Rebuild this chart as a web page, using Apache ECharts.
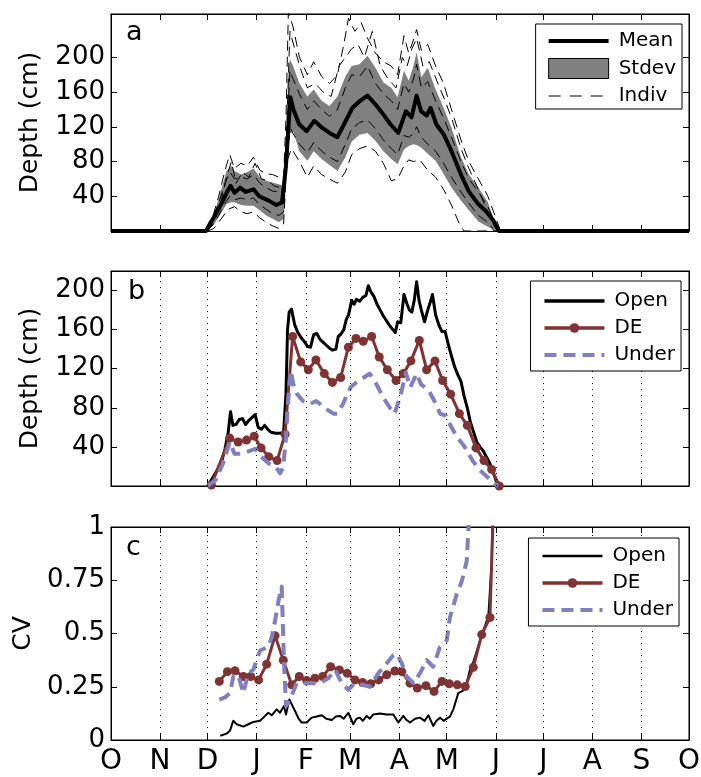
<!DOCTYPE html>
<html><head><meta charset="utf-8">
<script src="https://cdn.jsdelivr.net/npm/echarts@6/dist/echarts.min.js"></script>
<style>html,body{margin:0;padding:0;background:#fff}#c{width:701px;height:777px}</style>
</head><body><div id="c"></div>
<script>
// ---- axis definitions ----
const monthDays = [0,31,61,92,123,151,182,212,243,273,304,335,365];
const monthLabels = ['O','N','D','J','F','M','A','M','J','J','A','S','O'];
const depthTicks = [40,80,120,160,200];
const cvTicks = [0,0.25,0.5,0.75,1];
const cvTickLabels = ['0','0.25','0.5','0.75','1'];

// ---- panel a: mean, stdev band, individual sites (day since Oct 1, depth cm) ----
const meanA = [[0,0],[60,0],[63,10],[66,19],[70.7,35],[73,44],[75.5,52],[78,44],[81.5,50],[85,45],[90,48],[93.6,40],[99.6,35],[104.4,30],[108,33],[110.4,73],[113.3,154],[115.2,140],[118.8,123],[123.6,115],[128.4,127],[133.3,119],[138,113],[142.9,108],[147.7,125],[152.5,142],[157.3,150],[162,156],[166.9,146],[171.7,135],[176.5,123],[181.4,113],[186.2,138],[189.8,131],[193,156],[195.8,138],[199.4,133],[201.8,142],[205.4,123],[210.2,111],[215,92],[221,65],[225.9,46],[231.9,31],[236.7,23],[241.5,12],[245,0],[365,0]];
const bandDays = [0,60,63,66,70,73,76,78,82,86,90,94,98,102,106,109,110.5,112,113,115,119,124,128,133,138,143,148,152,157,162,167,172,177,181,185,188,191,193,196,200,205,210,215,221,226,232,238,244,365];
const bandLow  = [0,0,4,10,22,31,33,33,30,29,29,24,18,14,10,14,60,105,112,115,92,81,92,83,76,69,85,103,111,113,104,92,83,77,94,98,100,99,96,89,81,66,50,35,24,11,5,0,0];
const bandHigh = [0,0,12,25,50,69,75,69,65,68,72,62,58,56,54,52,95,180,198,190,170,155,163,150,144,155,178,190,192,202,188,171,165,154,185,173,190,206,177,188,163,142,119,85,65,50,33,0,0];
const indiv1 = [[0,0],[60,0],[64,15],[68,40],[72,70],[75,88],[78,72],[82,78],[86,75],[90,85],[94,70],[98,66],[102,65],[106,62],[109,60],[110.5,130],[112,252],[115,235],[119,200],[124,180],[128,195],[133,178],[138,170],[143,180],[147,215],[150,245],[154,230],[158,240],[162,222],[167,205],[172,195],[177,190],[181,180],[185,225],[188,205],[191,220],[193,232],[196,208],[200,215],[205,190],[210,170],[215,140],[221,105],[226,80],[232,60],[238,40],[243,15],[246,0],[365,0]];
const indiv2 = [[0,0],[61,0],[65,3],[70,15],[74,25],[78,28],[82,22],[86,20],[90,22],[94,15],[98,10],[102,6],[106,3],[109,8],[111,80],[114,95],[119,80],[124,62],[128,75],[133,65],[138,60],[143,55],[148,68],[152,88],[157,95],[162,98],[167,92],[172,78],[177,58],[181,60],[185,75],[188,82],[191,80],[195,82],[200,70],[205,62],[210,48],[215,30],[220,8],[223,0],[365,0]];
const indiv3 = [[0,0],[60,0],[64,14],[68,32],[72,55],[75,68],[78,60],[82,62],[86,60],[90,65],[94,55],[98,50],[102,46],[106,45],[109,44],[111,110],[113,185],[115,175],[119,158],[124,140],[128,150],[133,140],[138,132],[143,140],[148,165],[152,180],[157,178],[162,190],[167,170],[172,158],[177,150],[181,140],[185,170],[188,160],[191,175],[193,192],[196,165],[200,172],[205,150],[210,130],[215,108],[221,80],[226,60],[232,45],[238,28],[243,8],[245,0],[365,0]];
const indiv4 = [[0,0],[60,0],[64,6],[68,18],[72,32],[75,40],[78,36],[82,38],[86,36],[90,38],[94,30],[98,25],[102,20],[106,18],[109,22],[111,75],[113,120],[115,112],[119,100],[124,90],[128,102],[133,92],[138,85],[143,80],[148,100],[152,118],[157,125],[162,128],[167,118],[172,105],[177,95],[181,88],[185,110],[188,108],[191,112],[193,120],[196,108],[200,100],[205,92],[210,78],[215,62],[221,45],[226,32],[232,18],[238,10],[242,0],[365,0]];
const indiv5 = [[0,0],[61,0],[65,10],[69,30],[73,62],[76,80],[79,55],[83,68],[87,62],[91,78],[95,60],[99,58],[103,52],[107,50],[110,58],[111.5,150],[113,230],[116,210],[120,185],[124,165],[129,170],[134,160],[139,155],[144,190],[148,200],[152,210],[156,215],[160,200],[165,230],[170,190],[175,175],[180,165],[184,200],[187,190],[190,210],[193,222],[197,190],[201,195],[206,172],[211,150],[216,125],[221,95],[226,72],[231,52],[236,30],[240,12],[244,0],[365,0]];

// ---- panel b: depth at Open, DE, Under ----
const openB = [[61,0],[64,8],[67,16],[70,26],[72,38],[74,55],[75.5,76],[77,62],[79,63],[81,68],[83,69],[85,63],[87,67],[89,70],[91,73],[93,60],[95,58],[97,62],[99,58],[101,55],[104,54],[107,54],[109,55],[110.5,95],[111.5,160],[112.5,178],[114,181],[116,165],[118,157],[120,152],[122,148],[124,143],[126,142],[128,155],[130,156],[132,150],[134,147],[136,144],[138,141],[140,139],[142,140],[143.5,153],[145,155],[147,160],[148.5,170],[150,175],[152,190],[153.5,186],[155,191],[157,189],[159,193],[161,195],[162.5,205],[164,199],[166,194],[168,186],[170,180],[172,174],[174,169],[176,164],[178,160],[179.5,157],[181,168],[183,167],[185,196],[187,186],[188.5,180],[190,178],[191.5,190],[193,209],[194.5,190],[196,180],[198,168],[200,180],[202,190],[203,196],[205,175],[207,165],[209,158],[211,158],[213,145],[215,133],[217,122],[219,114],[221,107],[223,92],[225,80],[227,65],[229,55],[231,45],[233,40],[235,36],[237,30],[239,24],[241,16],[243,6],[244,0]];
const deB = [[63.4,1],[75,49],[80.3,45],[85.6,47],[90.4,51],[94.8,39],[99.6,30],[104.9,26],[109.9,53],[114.7,153],[119.8,127],[124.6,119],[129.4,129],[134.7,115],[139.8,106],[145,111],[149.9,142],[154.7,151],[159.3,148],[164.6,153],[169.4,132],[174.5,119],[180,108],[184.6,115],[189.4,128],[194.7,149],[199.3,119],[204.6,128],[209.4,108],[214.5,94],[220,74],[225,62],[230.5,39],[235.5,26],[240.4,17],[245.2,0]];
const underB = [[61,0],[66,6],[70.7,23],[75,45],[78,33],[82.7,33],[87.5,36],[91.2,38],[94.8,30],[99.6,23],[104.4,19],[106.8,13],[108.7,19],[110.4,47],[111.6,81],[113.5,118],[115.2,104],[117.6,94],[121.2,87],[125.6,84],[129.6,87],[135.7,79],[140.5,74],[142.9,74],[146.5,84],[151.3,101],[154.9,106],[159.7,111],[163.3,115],[167,106],[171.8,91],[176.5,79],[179,74],[182.6,91],[186.2,116],[189,101],[193,115],[195.8,104],[200.6,98],[204.2,87],[207.8,74],[211.4,72],[215,60],[218.6,50],[223.4,40],[228.3,26],[233,16],[237.8,9],[242.6,2],[244.4,0]];

// ---- panel c: coefficient of variation ----
const openC = [[69,0.02],[73,0.03],[75.1,0.043],[77.2,0.09],[79.4,0.074],[83.6,0.063],[86.7,0.074],[89.9,0.085],[94.1,0.09],[96.2,0.105],[99.3,0.128],[101.5,0.116],[104.6,0.144],[106.7,0.128],[109.2,0.159],[110.5,0.12],[112.6,0.19],[116.2,0.136],[118.5,0.1],[120.4,0.082],[123.6,0.082],[126.7,0.105],[130,0.11],[133,0.116],[136,0.1],[139.4,0.094],[142,0.11],[144.6,0.113],[147,0.1],[149.9,0.128],[153,0.074],[155,0.1],[157.2,0.105],[159,0.09],[161.5,0.113],[163.5,0.1],[165.6,0.12],[169.9,0.124],[174,0.12],[178.3,0.12],[181.4,0.082],[184.6,0.113],[186.5,0.095],[188.8,0.082],[192,0.1],[195.1,0.105],[198,0.09],[200.4,0.116],[203.5,0.066],[205.5,0.09],[207.8,0.105],[210,0.09],[212,0.1],[214,0.11],[216.2,0.144],[219.3,0.22],[223.5,0.236],[226.7,0.33],[228.8,0.367],[234.1,0.49],[238.3,0.583],[240.4,0.84],[242,1.5]];
const deC = [[68.4,0.275],[73.5,0.321],[78.3,0.325],[83.6,0.298],[88.2,0.298],[93.2,0.282],[98.3,0.356],[103.6,0.49],[108.8,0.375],[114.1,0.259],[118.9,0.298],[123.6,0.279],[128.8,0.29],[133.7,0.298],[138.7,0.344],[144.2,0.329],[149.2,0.313],[154.1,0.282],[158.9,0.27],[164,0.264],[169,0.282],[174.1,0.306],[179.3,0.324],[183.6,0.321],[188.8,0.267],[193.4,0.244],[198.9,0.255],[204,0.228],[209,0.275],[213.6,0.264],[218.7,0.259],[223.7,0.251],[228.8,0.341],[234.1,0.495],[239.3,0.575],[244,1.7]];
const underC = [[68.4,0.19],[72,0.2],[75.1,0.22],[77.3,0.3],[80.4,0.305],[83.5,0.22],[86.7,0.313],[89.9,0.33],[94.1,0.42],[99.3,0.437],[101.5,0.483],[103.6,0.56],[105.7,0.65],[107.8,0.72],[108.4,0.575],[109.2,0.375],[110.5,0.16],[113,0.19],[117.3,0.267],[121.4,0.267],[127.7,0.267],[132,0.267],[137.2,0.29],[141.5,0.33],[145.7,0.267],[149.8,0.236],[154,0.267],[158.3,0.26],[163.5,0.25],[168.8,0.313],[173,0.35],[178.3,0.398],[180.4,0.406],[183.6,0.36],[186.7,0.298],[190.9,0.267],[195.1,0.313],[199.4,0.375],[203.5,0.344],[207.7,0.437],[212,0.468],[214,0.575],[218.3,0.684],[221.5,0.745],[224.6,0.838],[228,1.3]];

// ---- styling ----
const FONT = 'DejaVu Sans';
const DE_COLOR = '#803333';
const UNDER_COLOR = '#8080bf';
const UNDER_DASH = [12,7];
const grids = [
  {left:111, top:14, width:578, height:217},
  {left:111, top:271, width:578, height:215},
  {left:111, top:527, width:578, height:213}
];

function xAxisFor(gi, showLabels, pos) {
  return {
    type:'value', gridIndex:gi, min:0, max:365, position:pos,
    axisLine:{show:true, onZero:false, lineStyle:{color:'#000', width:1}},
    axisTick:{show:true, inside:true, length:6, customValues:monthDays, lineStyle:{color:'#000'}},
    axisLabel:{show:showLabels, customValues:monthDays, margin:8, fontSize:28, fontFamily:FONT, color:'#000',
      showMinLabel:true, showMaxLabel:true,
      formatter:(v)=>monthLabels[monthDays.indexOf(Math.round(v))]},
    splitLine:{show:false}
  };
}
function yAxisFor(gi, max, ticks, labels, pos, name, gap) {
  return {
    type:'value', gridIndex:gi, min:0, max:max, position:pos,
    name:name||'', nameLocation:'middle', nameGap:gap||0,
    nameTextStyle:{fontSize:25, fontFamily:FONT, color:'#000'},
    axisLine:{show:true, onZero:false, lineStyle:{color:'#000', width:1}},
    axisTick:{show:true, inside:true, length:6, customValues:ticks, lineStyle:{color:'#000'}},
    axisLabel:{show:!!labels, customValues:ticks, margin:6, fontSize:26, fontFamily:FONT, color:'#000',
      showMinLabel:true, showMaxLabel:true,
      formatter:(v)=>{ if(!labels) return ''; const i = ticks.findIndex(t=>Math.abs(t-v)<1e-6); return i>=0 ? labels[i] : ''; }},
    splitLine:{show:false}
  };
}

const gridLineMarks = monthDays.slice(1,-1).map(d=>({xAxis:d}));

function lineS(name, data, xi, color, width, type, extra) {
  return Object.assign({
    type:'line', name:name, data:data, xAxisIndex:xi, yAxisIndex:xi,
    symbol:'none', clip:true, animation:false,
    lineStyle:{color:color, width:width, type:type||'solid', cap:'butt', join:'round'},
    itemStyle:{color:color}
  }, extra||{});
}

const series = [
  // panel a: stdev band = gray area up to the upper bound, masked in white below the lower bound
  {type:'line', name:'Stdev', xAxisIndex:0, yAxisIndex:0, symbol:'none', animation:false,
   data:bandDays.map((d,i)=>[d,bandHigh[i]]), lineStyle:{opacity:0, width:0},
   areaStyle:{color:'#808080', opacity:1, origin:'start'}, itemStyle:{color:'#808080'}, silent:true, z:1},
  {type:'line', name:'bandLow', xAxisIndex:0, yAxisIndex:0, symbol:'none', animation:false,
   data:bandDays.map((d,i)=>[d,bandLow[i]]), lineStyle:{opacity:0, width:0},
   areaStyle:{color:'#ffffff', opacity:1, origin:'start'}, silent:true, z:1},
  lineS('Indiv', indiv1, 0, '#000', 1, [10,6], {z:2}),
  lineS('Indiv', indiv2, 0, '#000', 1, [10,6], {z:2}),
  lineS('Indiv', indiv3, 0, '#000', 1, [10,6], {z:2}),
  lineS('Indiv', indiv4, 0, '#000', 1, [10,6], {z:2}),
  lineS('Indiv', indiv5, 0, '#000', 1, [10,6], {z:2}),
  lineS('Mean', meanA, 0, '#000', 4, 'solid', {z:3}),
  // panel b
  {type:'line', name:'gridB', xAxisIndex:1, yAxisIndex:1, data:[], silent:true, animation:false,
   markLine:{silent:true, animation:false, symbol:['none','none'], label:{show:false},
     lineStyle:{color:'#000', width:1, type:[1,5]}, emphasis:{disabled:true}, data:gridLineMarks}},
  lineS('Open', openB, 1, '#000', 3, 'solid', {z:3}),
  lineS('DE', deB, 1, DE_COLOR, 3, 'solid', {z:3, symbol:'circle', symbolSize:9, showAllSymbol:true}),
  lineS('Under', underB, 1, UNDER_COLOR, 4, UNDER_DASH, {z:4}),
  // panel c
  {type:'line', name:'gridC', xAxisIndex:2, yAxisIndex:2, data:[], silent:true, animation:false,
   markLine:{silent:true, animation:false, symbol:['none','none'], label:{show:false},
     lineStyle:{color:'#000', width:1, type:[1,5]}, emphasis:{disabled:true}, data:gridLineMarks}},
  lineS('Open', openC, 2, '#000', 2, 'solid', {z:3}),
  lineS('DE', deC, 2, DE_COLOR, 3, 'solid', {z:3, symbol:'circle', symbolSize:9, showAllSymbol:true}),
  lineS('Under', underC, 2, UNDER_COLOR, 4, UNDER_DASH, {z:4})
];

function legendFor(top, right, data, itemHeight, gap, padding) {
  return {
    orient:'vertical', top:top, right:right, align:'left', selectedMode:false,
    itemWidth:60, itemHeight:itemHeight, itemGap:gap, padding:padding,
    borderColor:'#000', borderWidth:1, borderRadius:0, backgroundColor:'#fff',
    textStyle:{fontSize:20, fontFamily:FONT, color:'#000', padding:[0,0,0,5]},
    data:data, z:10
  };
}
const noMark = {opacity:0};

const chart = echarts.init(document.getElementById('c'), null, {renderer:'canvas'});
chart.setOption({
  animation:false,
  backgroundColor:'#fff',
  grid: grids.map(g=>Object.assign({show:true, borderColor:'#000', borderWidth:1, backgroundColor:'transparent', containLabel:false, outerBoundsMode:'none'}, g)),
  xAxis:[
    xAxisFor(0,false,'bottom'), xAxisFor(1,false,'bottom'), xAxisFor(2,true,'bottom'),
    xAxisFor(0,false,'top'), xAxisFor(1,false,'top'), xAxisFor(2,false,'top')
  ],
  yAxis:[
    yAxisFor(0,250,depthTicks,depthTicks.map(String),'left','Depth (cm)',68),
    yAxisFor(1,220,depthTicks,depthTicks.map(String),'left','Depth (cm)',68),
    yAxisFor(2,1,cvTicks,cvTickLabels,'left','CV',70),
    yAxisFor(0,250,depthTicks,null,'right'),
    yAxisFor(1,220,depthTicks,null,'right'),
    yAxisFor(2,1,cvTicks,null,'right')
  ],
  legend:[
    legendFor(24, 19, [
      {name:'Mean', itemStyle:noMark, lineStyle:{width:4, color:'#000', type:'solid'}},
      {name:'Stdev', icon:'rect', itemStyle:{color:'#808080', borderColor:'#000', borderWidth:1}},
      {name:'Indiv', itemStyle:noMark, lineStyle:{width:1, color:'#000', type:[12,9]}}
    ], 20, 7, [7,6,3,11]),
    legendFor(281, 20, [
      {name:'Open', itemStyle:noMark, lineStyle:{width:3.5, color:'#000', type:'solid'}},
      {name:'DE', lineStyle:{width:3.5, color:DE_COLOR, type:'solid'}},
      {name:'Under', itemStyle:noMark, lineStyle:{width:4, color:UNDER_COLOR, type:UNDER_DASH}}
    ], 12, 7, [10,6,6,12]),
    legendFor(538, 22, [
      {name:'Open', itemStyle:noMark, lineStyle:{width:2.5, color:'#000', type:'solid'}},
      {name:'DE', lineStyle:{width:3.5, color:DE_COLOR, type:'solid'}},
      {name:'Under', itemStyle:noMark, lineStyle:{width:4, color:UNDER_COLOR, type:UNDER_DASH}}
    ], 12, 7, [8,6,6,12])
  ],
  graphic:[
    {type:'text', x:126, y:33, style:{text:'a', font:'27px "DejaVu Sans"', fill:'#000', verticalAlign:'middle'}},
    {type:'text', x:128, y:292, style:{text:'b', font:'27px "DejaVu Sans"', fill:'#000', verticalAlign:'middle'}},
    {type:'text', x:126, y:548, style:{text:'c', font:'27px "DejaVu Sans"', fill:'#000', verticalAlign:'middle'}}
  ],
  series:series
});
</script></body></html>
